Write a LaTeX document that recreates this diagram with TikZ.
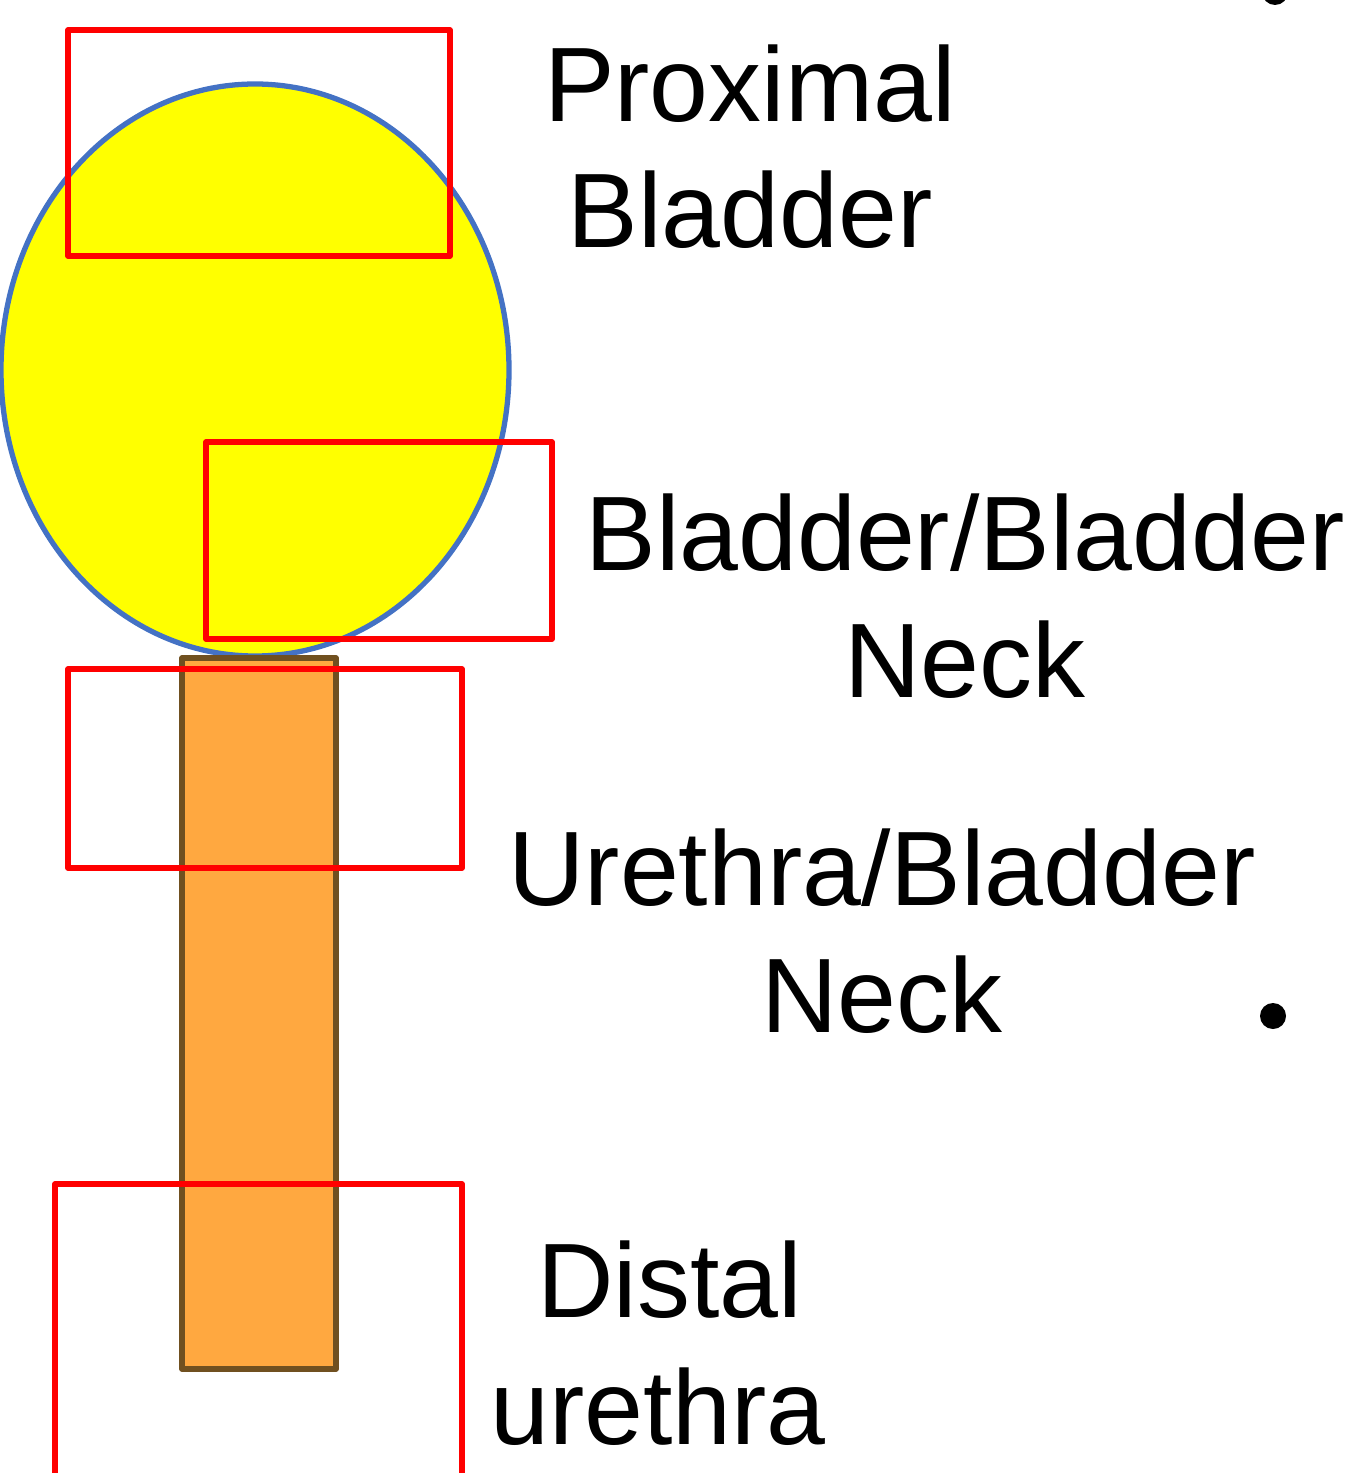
\documentclass[tikz,border=0pt]{standalone}
\usepackage{fontspec}
\setmainfont{Liberation Sans}
\usepackage{tikz}
\usetikzlibrary{positioning}
\definecolor{bladderblue}{RGB}{68,114,196}
\definecolor{bladderyellow}{RGB}{255,255,0}
\definecolor{urethraorange}{RGB}{255,168,64}
\definecolor{urethrabrown}{RGB}{112,80,32}

\begin{document}
\begin{tikzpicture}[x=0.01cm, y=-0.01cm,
    region/.style={draw=red, line width=1.5pt, line join=round},
    label/.style={font=\fontsize{30.1}{35.9}\selectfont, align=center, anchor=base, inner sep=0pt}
]
\clip (0,0) rectangle (1346,1473);

\draw[fill=bladderyellow, draw=bladderblue, line width=1.5pt] (255,370) ellipse [x radius=254, y radius=286];
\draw[fill=urethraorange, draw=urethrabrown, line width=1.5pt, line join=round] (182,658) rectangle (336,1369);

\draw[region] (68,30) rectangle (450,256);
\draw[region] (206,442) rectangle (552,639);
\draw[region] (68,669) rectangle (462,868);
\draw[region] (55,1184) rectangle (462,1500);

\node[label] (proximal) at (750,248) {Proximal\\Bladder};
\node[label] (neck) at (965,697) {Bladder/Bladder\\Neck};
\node[label] (junction) at (882,1032) {Urethra/Bladder\\Neck};
\node[label] (distal) at (658,1444) {\hphantom{i}Distal\\urethra};

\fill (1275,-8) circle [radius=13];
\fill (1273,1016) circle [radius=13];

\end{tikzpicture}
\end{document}
